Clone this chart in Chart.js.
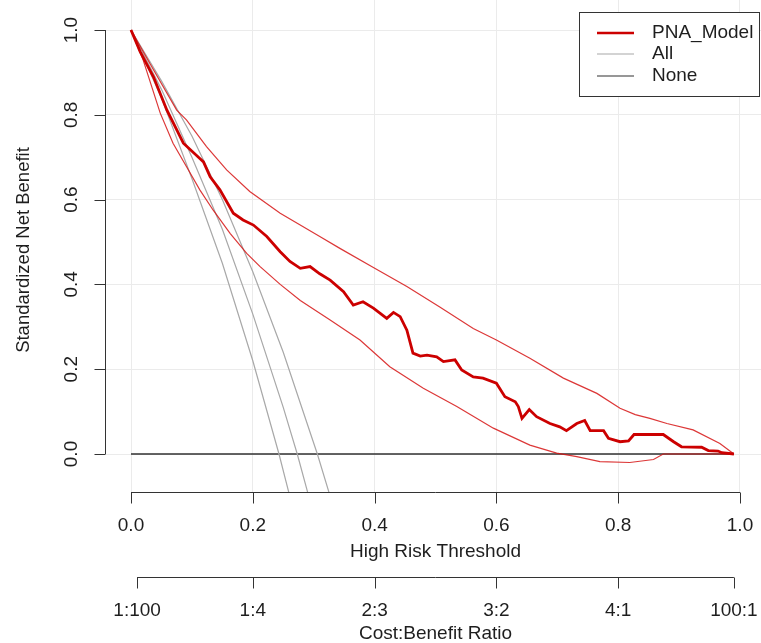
<!DOCTYPE html>
<html>
<head>
<meta charset="utf-8">
<script src="https://cdn.jsdelivr.net/npm/chart.js@4/dist/chart.umd.min.js"></script>
<style>
html,body{margin:0;padding:0;background:#fff;}
#wrap{width:761px;height:643px;position:relative;}
</style>
</head>
<body>
<div id="wrap"><canvas id="c" width="761" height="643"></canvas></div>
<script>
// ---- data ----
const modelT  = [0,0.015,0.037,0.059,0.086,0.113,0.119,0.130,0.146,0.168,0.184,0.201,0.223,0.245,0.261,0.278,0.294,0.310,0.327,0.349,0.365,0.381,0.398,0.420,0.431,0.442,0.453,0.463,0.475,0.486,0.502,0.513,0.532,0.543,0.562,0.578,0.600,0.614,0.631,0.636,0.642,0.654,0.666,0.688,0.704,0.715,0.732,0.745,0.754,0.776,0.784,0.803,0.817,0.826,0.874,0.891,0.904,0.937,0.948,0.964,0.970,0.990];
const modelNB = [1.000,0.949,0.889,0.811,0.733,0.697,0.689,0.654,0.623,0.568,0.552,0.540,0.513,0.477,0.454,0.438,0.442,0.425,0.410,0.383,0.351,0.359,0.344,0.320,0.334,0.324,0.292,0.238,0.231,0.233,0.229,0.218,0.222,0.198,0.182,0.179,0.167,0.135,0.123,0.112,0.084,0.105,0.088,0.072,0.064,0.055,0.072,0.079,0.055,0.055,0.037,0.029,0.031,0.046,0.046,0.029,0.017,0.016,0.008,0.007,0.003,0.000];

const upperT  = [0,0.031,0.075,0.091,0.124,0.157,0.195,0.245,0.310,0.343,0.398,0.453,0.507,0.562,0.600,0.655,0.710,0.765,0.803,0.828,0.852,0.880,0.923,0.967,0.990];
const upperNB = [1.000,0.921,0.811,0.788,0.725,0.670,0.619,0.568,0.513,0.485,0.440,0.395,0.347,0.296,0.269,0.226,0.179,0.143,0.108,0.093,0.084,0.072,0.057,0.025,0.000];

const lowerT  = [0,0.020,0.048,0.069,0.091,0.113,0.135,0.163,0.190,0.212,0.245,0.278,0.327,0.376,0.425,0.480,0.535,0.595,0.655,0.699,0.732,0.770,0.819,0.858,0.874,0.990];
const lowerNB = [1.000,0.929,0.804,0.733,0.678,0.623,0.575,0.520,0.473,0.442,0.400,0.362,0.316,0.269,0.206,0.155,0.112,0.061,0.021,0.002,-0.006,-0.018,-0.020,-0.013,0.000,0.000];

const allT     = [0,0.05,0.10,0.15,0.20,0.25,0.273,0.290];
const allNB    = [1.00,0.86,0.70,0.53,0.33,0.11,0.00,-0.09];
const allLowT  = [0,0.05,0.10,0.15,0.20,0.243,0.259];
const allLowNB = [1.00,0.84,0.65,0.45,0.22,0.00,-0.09];
const allUpT   = [0,0.05,0.10,0.15,0.20,0.25,0.306,0.325];
const allUpNB  = [1.00,0.88,0.75,0.60,0.43,0.24,0.00,-0.09];

const noneT  = [0,0.99];
const noneNB = [0,0];

const xTicks = [0,0.2,0.4,0.6,0.8,1.0];
const xTickLabels = ['0.0','0.2','0.4','0.6','0.8','1.0'];
const yTicks = [0,0.2,0.4,0.6,0.8,1.0];
const yTickLabels = ['0.0','0.2','0.4','0.6','0.8','1.0'];
const cbPos = [0.01,0.2,0.4,0.6,0.8,0.99];
const cbLabels = ['1:100','1:4','2:3','3:2','4:1','100:1'];

const legendLabels = ['PNA_Model','All','None'];

// ---- build ----
const pts = (t, v) => t.map((x, i) => ({x: x, y: v[i]}));
const RED = '#cc0000';
const CI = 'rgba(214,20,20,0.85)';
const GRAY = '#a8a8a8';
const DARK = '#303030';
const FONT = '19px "Liberation Sans", Arial, sans-serif';

const datasets = [
  {label: legendLabels[0], data: pts(modelT, modelNB), borderColor: RED, borderWidth: 2.8},
  {label: 'upper', data: pts(upperT, upperNB), borderColor: CI, borderWidth: 1.2},
  {label: 'lower', data: pts(lowerT, lowerNB), borderColor: CI, borderWidth: 1.2},
  {label: legendLabels[1], data: pts(allT, allNB), borderColor: GRAY, borderWidth: 1.2},
  {label: 'allLow', data: pts(allLowT, allLowNB), borderColor: GRAY, borderWidth: 1.2},
  {label: 'allUp', data: pts(allUpT, allUpNB), borderColor: GRAY, borderWidth: 1.2},
  {label: legendLabels[2], data: pts(noneT, noneNB), borderColor: DARK, borderWidth: 1.3}
].map(d => Object.assign(d, {pointRadius: 0, tension: 0, fill: false}));

const rAxes = {
  id: 'rAxes',
  afterDraw(chart) {
    const ctx = chart.ctx, xs = chart.scales.x, ys = chart.scales.y, ca = chart.chartArea;
    ctx.save();
    ctx.strokeStyle = '#333';
    ctx.fillStyle = '#1e1e1e';
    ctx.lineWidth = 1;
    ctx.font = FONT;
    ctx.textAlign = 'center';
    ctx.textBaseline = 'middle';
    // x axis
    const xa = Math.round(ca.bottom) + 0.5;
    ctx.beginPath();
    ctx.moveTo(xs.getPixelForValue(xTicks[0]), xa);
    ctx.lineTo(xs.getPixelForValue(xTicks[xTicks.length-1]), xa);
    xTicks.forEach(v => { const p = Math.round(xs.getPixelForValue(v)) + 0.5; ctx.moveTo(p, xa); ctx.lineTo(p, xa + 11); });
    ctx.stroke();
    xTicks.forEach((v, i) => ctx.fillText(xTickLabels[i], xs.getPixelForValue(v), xa + 33));
    ctx.fillText('High Risk Threshold', (xs.getPixelForValue(0) + xs.getPixelForValue(1)) / 2, xa + 59);
    // cost:benefit axis
    const ca2 = xa + 85;
    ctx.beginPath();
    ctx.moveTo(xs.getPixelForValue(cbPos[0]), ca2);
    ctx.lineTo(xs.getPixelForValue(cbPos[cbPos.length-1]), ca2);
    cbPos.forEach(v => { const p = Math.round(xs.getPixelForValue(v)) + 0.5; ctx.moveTo(p, ca2); ctx.lineTo(p, ca2 + 11); });
    ctx.stroke();
    cbPos.forEach((v, i) => ctx.fillText(cbLabels[i], xs.getPixelForValue(v), ca2 + 33));
    ctx.fillText('Cost:Benefit Ratio', (xs.getPixelForValue(0) + xs.getPixelForValue(1)) / 2, ca2 + 56);
    // y axis
    const ya = Math.round(ca.left) + 0.5;
    ctx.beginPath();
    ctx.moveTo(ya, ys.getPixelForValue(yTicks[0]));
    ctx.lineTo(ya, ys.getPixelForValue(yTicks[yTicks.length-1]));
    yTicks.forEach(v => { const p = Math.round(ys.getPixelForValue(v)) + 0.5; ctx.moveTo(ya, p); ctx.lineTo(ya - 11, p); });
    ctx.stroke();
    yTicks.forEach((v, i) => {
      ctx.save();
      ctx.translate(ya - 34, ys.getPixelForValue(v));
      ctx.rotate(-Math.PI / 2);
      ctx.fillText(yTickLabels[i], 0, 0);
      ctx.restore();
    });
    ctx.save();
    ctx.translate(ya - 82, (ys.getPixelForValue(0) + ys.getPixelForValue(1)) / 2 + 8);
    ctx.rotate(-Math.PI / 2);
    ctx.font = '18.5px "Liberation Sans", Arial, sans-serif';
    ctx.fillText('Standardized Net Benefit', 0, 0);
    ctx.restore();
    // legend
    const lx = 579.5, ly = 12.5, lw = 180, lh = 84;
    ctx.fillStyle = '#fff';
    ctx.fillRect(lx, ly, lw, lh);
    ctx.strokeStyle = '#333';
    ctx.strokeRect(lx, ly, lw, lh);
    const rows = [33, 54, 76];
    const lc = [datasets[0], datasets[3], datasets[6]];
    rows.forEach((ry, i) => {
      ctx.beginPath();
      ctx.strokeStyle = lc[i].borderColor;
      ctx.lineWidth = i === 0 ? 2.6 : 1.2;
      ctx.moveTo(597, ry); ctx.lineTo(634, ry);
      ctx.stroke();
      ctx.fillStyle = '#1e1e1e';
      ctx.textAlign = 'left';
      ctx.fillText(legendLabels[i], 652, ry);
    });
    ctx.restore();
  }
};

new Chart(document.getElementById('c'), {
  type: 'line',
  data: {datasets: datasets},
  options: {
    responsive: false,
    animation: false,
    devicePixelRatio: 1,
    layout: {padding: {left: 105, top: 0, right: 0, bottom: 151}},
    plugins: {legend: {display: false}, tooltip: {enabled: false}},
    scales: {
      x: {
        type: 'linear', min: -0.0427, max: 1.0345,
        afterBuildTicks: s => { s.ticks = xTicks.map(v => ({value: v})); },
        afterFit: s => { s.height = 0; },
        ticks: {display: false},
        border: {display: false},
        grid: {color: '#ebebeb', lineWidth: 1, drawTicks: false}
      },
      y: {
        type: 'linear', min: -0.0896, max: 1.0708,
        afterBuildTicks: s => { s.ticks = yTicks.map(v => ({value: v})); },
        afterFit: s => { s.width = 0; },
        ticks: {display: false},
        border: {display: false},
        grid: {color: '#ebebeb', lineWidth: 1, drawTicks: false}
      }
    }
  },
  plugins: [rAxes]
});
</script>
</body>
</html>
